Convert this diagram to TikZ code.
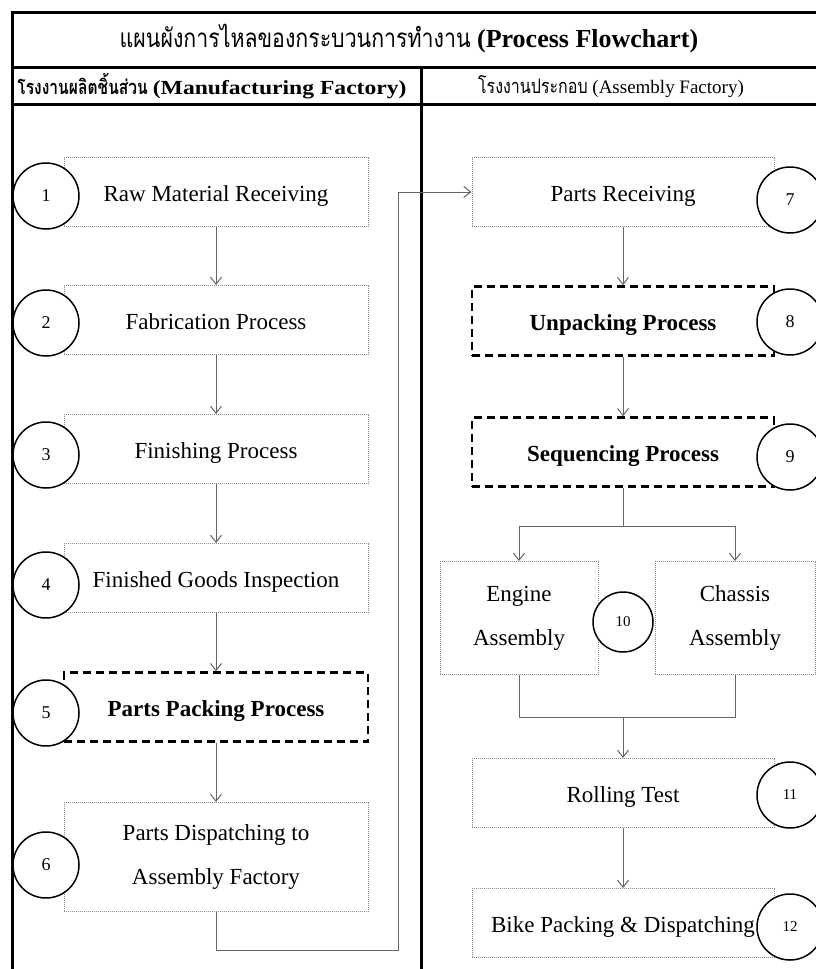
\documentclass[tikz,border=0pt]{standalone}
\usepackage{fontspec}
\setmainfont{Liberation Serif}
\newfontfamily\thaifont[Script=Thai]{Loma}
\usetikzlibrary{arrows.meta}

\begin{document}
\begin{tikzpicture}[x=1pt,y=-1pt,
    frame/.style={line width=3pt},
    cell/.style={draw=black!45,densely dotted,line width=1pt,minimum width=304pt,minimum height=69pt,align=center,font=\fontsize{23}{44}\selectfont},
    box/.style={cell,text height=20pt,text depth=2pt},
    dbox/.style={box,draw=black,line width=2.5pt,dash pattern=on 8pt off 5pt,font=\fontsize{23}{44}\selectfont\bfseries},
    num/.style={draw,circle,fill=white,line width=1.5pt,minimum size=66pt,inner sep=0pt,font=\fontsize{18}{20}\selectfont},
    line/.style={draw=black!60,line width=1pt},
    arr/.style={line,-{Straight Barb[length=7pt,width=11pt]}}]

      \useasboundingbox (0,0) rectangle (816,969);

      % lanes
      \draw[frame] (12,969) -- (12,12) -- (830,12);
      \draw[frame] (12,67) -- (830,67);
      \draw[frame] (12,104) -- (830,104);
      \draw[frame] (421,67) -- (421,969);

      \node[font=\fontsize{26}{30}\selectfont] (title) at (409,39)
        {\scalebox{0.82}[1]{\thaifont แผนผังการไหลของกระบวนการทำงาน}\ \textbf{(Process Flowchart)}};
      \node[font=\fontsize{20}{24}\selectfont] (lhead) at (212,86)
        {\scalebox{0.78}[1]{\thaifont\bfseries โรงงานผลิตชิ้นส่วน}\ \scalebox{1.18}[1]{\bfseries(Manufacturing Factory)}};
      \node[font=\fontsize{19}{24}\selectfont] (rhead) at (611,87)
        {\scalebox{0.8}[1]{\thaifont\fontsize{20}{24}\selectfont โรงงานประกอบ}\ (Assembly Factory)};

      % manufacturing factory
      \node[box] (raw) at (216,192) {Raw Material Receiving};
      \node[box] (fab) at (216,320) {Fabrication Process};
      \node[box] (fin) at (216,449) {Finishing Process};
      \node[box] (insp) at (216,578) {Finished Goods Inspection};
      \node[dbox] (pack) at (216,707) {Parts Packing Process};
      \node[cell,minimum height=109pt] (disp) at (216,857) {Parts Dispatching to\\Assembly Factory};

      % assembly factory
      \node[box,minimum width=302pt] (recv) at (623,192) {Parts Receiving};
      \node[dbox,minimum width=302pt] (unpack) at (623,321) {Unpacking Process};
      \node[dbox,minimum width=302pt] (seq) at (623,452) {Sequencing Process};
      \node[cell,minimum width=158pt,minimum height=113pt] (engine) at (519,618) {Engine\\Assembly};
      \node[cell,minimum width=160pt,minimum height=113pt] (chassis) at (735,618) {Chassis\\Assembly};
      \node[box,minimum width=302pt] (roll) at (623,793) {Rolling Test};
      \node[box,minimum width=302pt] (bike) at (623,923) {Bike Packing \& Dispatching};

      \coordinate (split) at (623,526);
      \coordinate (merge) at (623,717);
      \coordinate (loop) at (398,950);

      \draw[arr] (raw) -- (fab);
      \draw[arr] (fab) -- (fin);
      \draw[arr] (fin) -- (insp);
      \draw[arr] (insp) -- (pack);
      \draw[arr] (pack) -- (disp);
      \draw[arr] (disp) |- (loop) |- (recv);
      \draw[arr] (recv) -- (unpack);
      \draw[arr] (unpack) -- (seq);
      \draw[line] (seq) -- (split);
      \draw[arr] (split) -| (engine);
      \draw[arr] (split) -| (chassis);
      \draw[line] (engine) |- (merge);
      \draw[line] (chassis) |- (merge);
      \draw[arr] (merge) -- (roll);
      \draw[arr] (roll) -- (bike);

      % step numbers
      \node[num] (c1) at (46,196) {1};
      \node[num] (c2) at (46,323) {2};
      \node[num] (c3) at (46,455) {3};
      \node[num] (c4) at (46,585) {4};
      \node[num] (c5) at (46,713) {5};
      \node[num] (c6) at (46,865) {6};
      \node[num] (c7) at (790,200) {7};
      \node[num] (c8) at (790,322) {8};
      \node[num] (c9) at (790,457) {9};
      \node[num,minimum size=60pt,font=\fontsize{15}{18}\selectfont] (c10) at (623,622) {10};
      \node[num,font=\fontsize{15}{18}\selectfont] (c11) at (790,795) {11};
      \node[num,font=\fontsize{15}{18}\selectfont] (c12) at (790,927) {12};

    \end{tikzpicture}
\end{document}
